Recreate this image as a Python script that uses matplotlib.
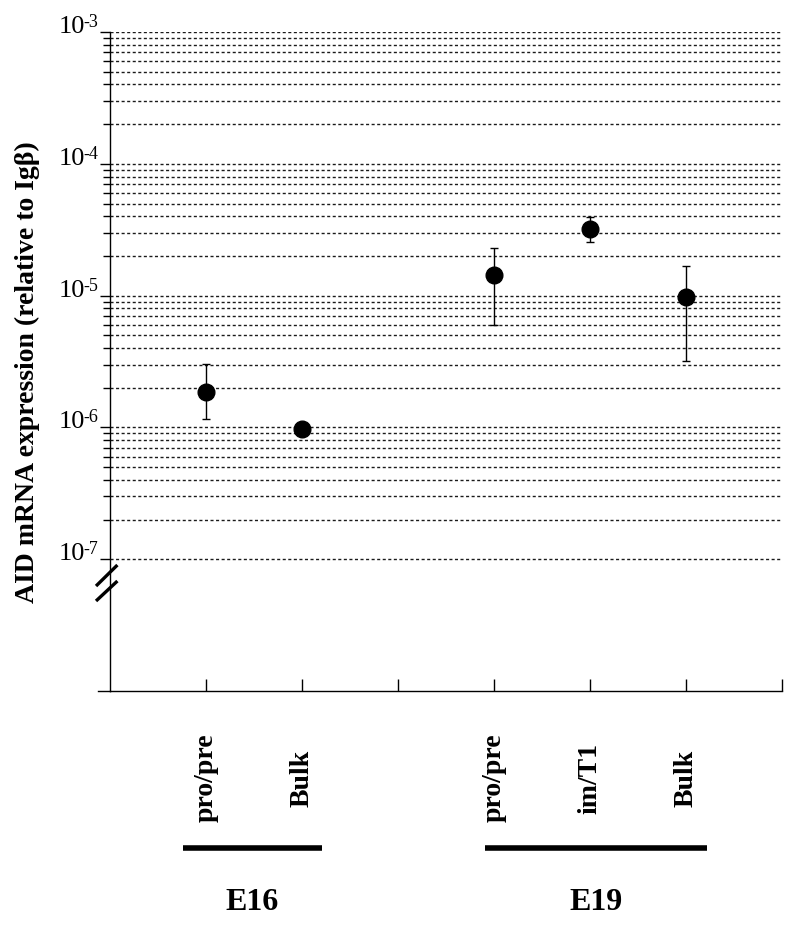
import numpy as np
import matplotlib
matplotlib.use('Agg')
import matplotlib.pyplot as plt
import matplotlib.transforms as mtransforms

plt.rcParams['font.family'] = ['Liberation Serif', 'DejaVu Serif']

# data
categories = ['pro/pre', 'Bulk', 'pro/pre', 'im/T1', 'Bulk']
groups = ['E16', 'E16', 'E19', 'E19', 'E19']
x_pos = [1, 2, 4, 5, 6]
means = [1.87e-6, 0.97e-6, 1.43e-5, 3.18e-5, 9.8e-6]
err_upper = [3.05e-6, np.nan, 2.28e-5, 3.95e-5, 1.67e-5]
err_lower = [1.16e-6, np.nan, 6.0e-6, 2.55e-5, 3.2e-6]
major_exp = [-7, -6, -5, -4, -3]
group_names = ['E16', 'E19']
group_spans = [(0.76, 2.21), (3.91, 6.22)]

fig = plt.figure(figsize=(8, 9.28), dpi=100)
ax = fig.add_axes([0.1375, 0.2543, 0.84, 0.7101])
ax.set_yscale('log')
ax.set_xlim(0, 7)
ax.set_ylim(1e-8, 1e-3)

# dashed grid for every decade step between 1e-7 and 1e-3
grid_vals = [m * 10.0 ** k for k in major_exp[:-1] for m in range(1, 10)] + [10.0 ** major_exp[-1]]
for gv in grid_vals:
    ax.axhline(gv, color='#1a1a1a', lw=1.0, ls=(0, (2.2, 1.8)), zorder=1)

# points and error bars
x_pos = np.array(x_pos)
means = np.array(means)
up = np.array(err_upper)
lo = np.array(err_lower)
has_err = ~np.isnan(up)
ax.errorbar(x_pos[has_err], means[has_err],
            yerr=[means[has_err] - lo[has_err], up[has_err] - means[has_err]],
            fmt='none', ecolor='black', elinewidth=1.0, capsize=2.9, capthick=1.0, zorder=3)
ax.plot(x_pos, means, 'o', color='black', markersize=12, zorder=4)

# axes styling
for s in ['top', 'right']:
    ax.spines[s].set_visible(False)
ax.spines['left'].set_linewidth(1.0)
ax.spines['bottom'].set_linewidth(1.0)

ax.set_xticks(range(1, 8))
ax.set_xticklabels([])
ax.tick_params(axis='x', direction='in', length=8.6, width=1.0)

ax.set_yticks([10.0 ** k for k in major_exp])
ax.set_yticks([m * 10.0 ** k for k in major_exp[:-1] for m in range(2, 10)], minor=True)
ax.set_yticklabels([])
ax.set_yticklabels([], minor=True)
ax.tick_params(axis='y', which='major', direction='out', length=7.2, width=1.0)
ax.tick_params(axis='y', which='minor', direction='out', length=5.0, width=1.0)

# y tick labels drawn by hand: "10" sits on the line, exponent raised
ytrans = mtransforms.blended_transform_factory(ax.transAxes, ax.transData)
sup_trans = mtransforms.offset_copy(ytrans, fig=fig, x=0, y=6, units='dots')
for k in major_exp:
    ax.text(-0.037, 10.0 ** k, '10', transform=ytrans,
            ha='right', va='baseline', fontsize=19)
    ax.text(-0.017, 10.0 ** k, '%d' % k, transform=sup_trans,
            ha='right', va='baseline', fontsize=13)

# bottom axis line continues a bit past the y axis
ax.plot([-0.13, 0], [1e-8, 1e-8], color='black', lw=1.0, clip_on=False, zorder=5)

# axis break marks
for y0, y1 in [(0.1593, 0.1912), (0.1366, 0.1669)]:
    ax.plot([-0.0208, 0.011], [y0, y1], transform=ax.transAxes, color='black',
            lw=2.4, clip_on=False, solid_capstyle='butt', zorder=6)

# category labels under the axis
xtrans = mtransforms.blended_transform_factory(ax.transData, ax.transAxes)
for xp, cat in zip(x_pos, categories):
    ax.text(xp, -0.1305, cat, transform=xtrans, rotation=90, ha='center', va='center',
            fontsize=20, fontweight='bold')

# group bars and names
for g, (x0, x1) in zip(group_names, group_spans):
    ax.plot([x0, x1], [-0.2382, -0.2382], transform=xtrans, color='black', lw=4.0,
            clip_on=False, solid_capstyle='butt')
    ax.text((x0 + x1) / 2, -0.3187, g, transform=xtrans, ha='center', va='center',
            fontsize=23, fontweight='bold')

fig.text(0.034, 0.599, 'AID mRNA expression (relative to Igβ)', rotation=90,
         ha='center', va='center', fontsize=20, fontweight='bold')

fig.savefig('out.png', dpi=100)
